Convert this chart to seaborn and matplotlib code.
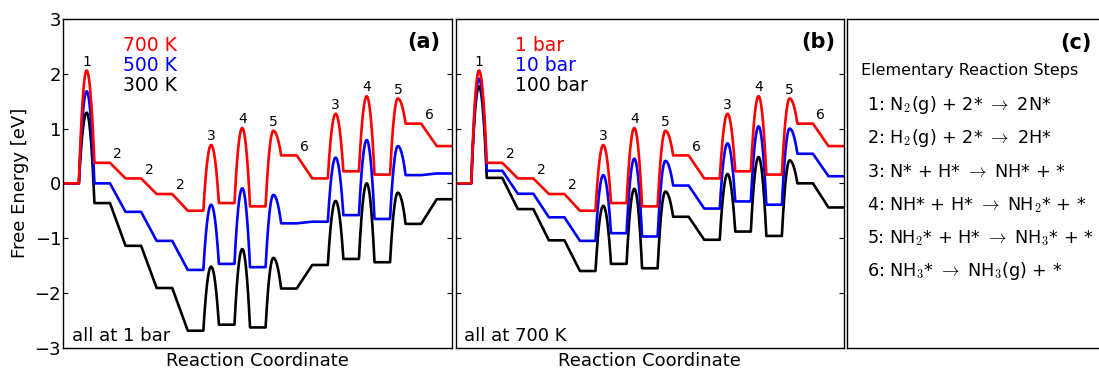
import numpy as np
import pandas as pd
import matplotlib
matplotlib.use("Agg")
import matplotlib.pyplot as plt
import seaborn as sns

# ---------------- data ----------------
steps = [1, 2, 2, 2, 3, 4, 5, 6, 3, 4, 5, 6]          # elementary step of each transition
barrier_steps = [1, 3, 4, 5]                            # steps drawn with a transition-state hump

# panel (a): all at 1 bar
temp_labels = ["700 K", "500 K", "300 K"]
states_700K = [0.00, 0.375, 0.09, -0.195, -0.50, -0.36, -0.42, 0.51, 0.09, 0.22, 0.16, 1.09, 0.68]
ts_700K = [2.06, 0.70, 1.01, 0.96, 1.27, 1.59, 1.55]
states_500K = [0.00, 0.00, -0.52, -1.05, -1.58, -1.47, -1.53, -0.73, -0.70, -0.58, -0.65, 0.15, 0.18]
ts_500K = [1.68, -0.39, -0.09, -0.21, 0.47, 0.79, 0.68]
states_300K = [0.00, -0.36, -1.14, -1.91, -2.69, -2.58, -2.63, -1.92, -1.49, -1.38, -1.44, -0.74, -0.29]
ts_300K = [1.29, -1.52, -1.20, -1.36, -0.32, 0.00, -0.17]

# panel (b): all at 700 K
pres_labels = ["1 bar", "10 bar", "100 bar"]
states_1bar = states_700K
ts_1bar = ts_700K
states_10bar = [0.00, 0.23, -0.19, -0.62, -1.05, -0.91, -0.97, -0.04, -0.46, -0.33, -0.39, 0.54, 0.13]
ts_10bar = [1.91, 0.15, 0.45, 0.41, 0.73, 1.04, 1.00]
states_100bar = [0.00, 0.10, -0.47, -1.04, -1.60, -1.47, -1.55, -0.61, -1.03, -0.88, -0.96, 0.00, -0.44]
ts_100bar = [1.77, -0.41, -0.10, -0.15, 0.17, 0.48, 0.42]

reaction_title = "Elementary Reaction Steps"
reactions = [
    r"1: N$_2$(g) + 2* $\rightarrow$ 2N*",
    r"2: H$_2$(g) + 2* $\rightarrow$ 2H*",
    r"3: N* + H* $\rightarrow$ NH* + *",
    r"4: NH* + H* $\rightarrow$ NH$_2$* + *",
    r"5: NH$_2$* + H* $\rightarrow$ NH$_3$* + *",
    r"6: NH$_3$* $\rightarrow$ NH$_3$(g) + *",
]
colors = ["#ff0000", "#0000ff", "#000000"]


def profile(states, ts):
    """Coordinates of an energy profile: flat states joined by ramps or humps."""
    xs, ys = [0.0, 1.0], [states[0], states[0]]
    it = iter(ts)
    for j, st in enumerate(steps):
        x0 = 2 * j + 1
        ei, ef = states[j], states[j + 1]
        if st in barrier_steps:
            e_ts = next(it)
            u = np.linspace(0, 1, 61)[1:]
            e = np.where(u <= 0.5,
                         e_ts - (e_ts - ei) * ((0.5 - u) / 0.5) ** 2,
                         e_ts - (e_ts - ef) * ((u - 0.5) / 0.5) ** 2)
            xs.extend(list(x0 + u))
            ys.extend(list(e))
        else:
            xs.append(x0 + 1.0)
            ys.append(ef)
        xs.append(x0 + 2.0)
        ys.append(ef)
    return xs, ys


def label_positions(states, ts):
    out = []
    it = iter(ts)
    for j, st in enumerate(steps):
        if st in barrier_steps:
            top = next(it)
        else:
            top = max(states[j], states[j + 1])
        out.append((2 * j + 1.5, top + 0.16, str(st)))
    return out


def frame(labels, series):
    rows = []
    for lab, (s, t) in zip(labels, series):
        xs, ys = profile(s, t)
        rows.append(pd.DataFrame({"x": xs, "E": ys, "series": lab}))
    return pd.concat(rows, ignore_index=True)


# ---------------- style ----------------
sns.set_theme(style="ticks")
plt.rcParams.update({
    "font.family": ["DejaVu Sans"],
    "mathtext.fontset": "cm",
    "axes.edgecolor": "black",
    "axes.linewidth": 1.0,
    "xtick.direction": "in",
    "ytick.direction": "in",
    "ytick.major.size": 3.5,
    "ytick.major.width": 0.8,
    "ytick.color": "black",
    "text.color": "black",
    "axes.labelcolor": "black",
})

W, H = 1099, 371
fig = plt.figure(figsize=(W / 100, H / 100), dpi=100)


def ax_rect(left, right, top, bottom):
    return [left / W, 1 - bottom / H, (right - left) / W, (bottom - top) / H]


axA = fig.add_axes(ax_rect(63.3, 452.3, 19, 347.7))
axB = fig.add_axes(ax_rect(455.7, 844.0, 19, 347.7))
axC = fig.add_axes(ax_rect(847.3, 1120.0, 19, 347.7))

panels = [
    (axA, temp_labels, [(states_700K, ts_700K), (states_500K, ts_500K), (states_300K, ts_300K)],
     "all at 1 bar", "(a)", 0.968),
    (axB, pres_labels, [(states_1bar, ts_1bar), (states_10bar, ts_10bar), (states_100bar, ts_100bar)],
     "all at 700 K", "(b)", 0.977),
]

for ax, labels, series, note, tag, tagx in panels:
    df = frame(labels, series)
    sns.lineplot(data=df, x="x", y="E", hue="series", hue_order=labels[::-1],
                 palette=dict(zip(labels, colors)), sort=False, estimator=None,
                 linewidth=1.9, legend=False, ax=ax)
    ax.set_xlim(0, 25)
    ax.set_ylim(-3, 3)
    ax.set_yticks([-3, -2, -1, 0, 1, 2, 3])
    ax.set_xticks([])
    ax.tick_params(axis="y", which="both", left=True, right=True, pad=1.5, labelsize=13)
    ax.set_xlabel("Reaction Coordinate", fontsize=13, labelpad=3)
    ax.set_ylabel("")
    for x, y, t in label_positions(*series[0]):
        ax.text(x, y, t, ha="center", va="center", fontsize=10)
    for k, (lab, c) in enumerate(zip(labels, colors)):
        ax.text(0.153, 0.919 - 0.061 * k, lab, color=c, fontsize=13.5,
                ha="left", va="center", transform=ax.transAxes)
    ax.text(0.022, 0.036, note, fontsize=13, ha="left", va="center", transform=ax.transAxes)
    ax.text(tagx, 0.93, tag, fontsize=15, fontweight="bold", ha="right", va="center",
            transform=ax.transAxes)

axA.set_ylabel("Free Energy [eV]", fontsize=13, labelpad=4)
axB.tick_params(axis="y", labelleft=False)

axC.set_xticks([])
axC.set_yticks([])
axC.set_xlim(0, 1)
axC.set_ylim(0, 1)

fig.text(1091.7 / W, 1 - 43 / H, "(c)", fontsize=15, fontweight="bold", ha="right", va="center")
fig.text(861 / W, 1 - 70 / H, reaction_title, fontsize=11.5, ha="left", va="center")
for k, r in enumerate(reactions):
    fig.text(866.7 / W, 1 - (110 + 33.3 * k) / H, r, fontsize=12.7, ha="left", va="baseline")

fig.savefig("out.png", dpi=100)
